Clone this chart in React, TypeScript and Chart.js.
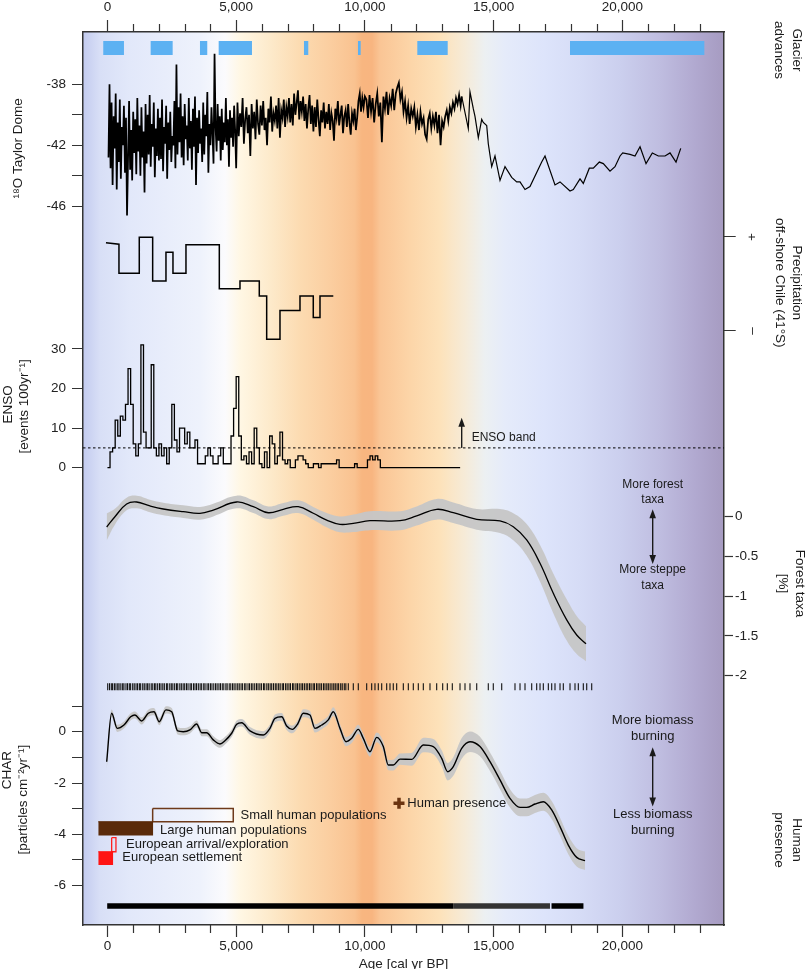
import React, { useEffect, useRef } from 'react';
import { Chart, registerables } from 'chart.js';

Chart.register(...registerables);

const W = 807;
const H = 969;
const FONT = '"Liberation Sans", Arial, Helvetica, sans-serif';

// ---------------- Age axis ----------------
const AGE_MIN = -950;
const AGE_MAX = 23950;
const AGE_TICKS = [0, 5000, 10000, 15000, 20000];
const AGE_MINOR_STEP = 1000;

// ---------------- Glacier advances ----------------
const GLACIER_FROM = [-163, 1678, 3594, 4320, 7634, 9732, 12036, 17968];
const GLACIER_TO = [641, 2533, 3877, 5614, 7801, 9837, 13217, 23186];
const GLACIER_LEVEL = 1;

// ---------------- 18O Taylor Dome ----------------
const TD_A_START = 40;
const TD_A_STEP = 40;
const TD_A = [
  -42.8, -38.0, -43.5, -39.2, -44.6, -40.1, -42.2, -38.6, -44.9, -40.5,
  -43.1, -39.0, -44.2, -40.8, -42.0, -39.4, -43.8, -40.2, -46.6, -42.9,
  -39.1, -43.6, -41.0, -44.3, -39.8, -42.5, -40.3, -43.9, -38.9, -42.4,
  -40.7, -44.0, -39.5, -42.8, -41.1, -45.1, -39.3, -43.2, -40.0, -42.6,
  -38.7, -43.4, -40.6, -42.1, -39.2, -44.1, -40.9, -42.7, -39.6, -43.0,
  -40.2, -42.9, -39.0, -43.7, -40.8, -41.9, -39.4, -44.2, -40.5, -42.3,
  -39.8, -43.1, -41.4, -42.0, -39.1, -43.5, -36.7, -42.6, -39.5, -41.8,
  -38.6, -42.8, -40.1, -43.3, -39.3, -41.6, -40.7, -43.0, -38.9, -42.2,
  -40.4, -43.6, -39.6, -42.1, -38.8, -44.6, -40.2, -42.5, -39.7, -41.9,
  -40.9, -43.1, -39.2, -42.6, -40.0, -41.4, -38.5, -43.8, -40.6, -42.0,
  -39.5, -41.2, -43.2, -36.0, -40.8, -42.4, -39.3, -41.7, -40.1, -43.0,
  -39.6, -42.3, -40.5, -41.8, -38.9, -42.0, -40.3, -43.4, -39.7, -41.5,
  -40.2, -42.1, -39.4, -41.0, -43.5,
];
const TD_B_START = 5050;
const TD_B_STEP = 50;
const TD_B = [
  -39.2, -41.4, -39.9, -40.8, -38.9, -41.9, -40.3, -39.5, -41.2, -40.0,
  -42.7, -39.3, -40.9, -39.8, -41.6, -39.0, -40.6, -41.3, -39.4, -40.7,
  -39.1, -41.0, -40.2, -42.0, -39.6, -40.5, -38.8, -41.1, -39.9, -40.4,
  -39.4, -40.9, -38.9, -41.5, -39.7, -40.2, -39.0, -40.8, -39.5, -40.1,
  -38.9, -40.5, -39.3, -40.7, -38.6, -40.0, -39.2, -38.4, -40.3, -39.1,
  -39.8, -38.8, -40.4, -39.3, -40.9, -39.6, -38.7, -40.6, -39.4, -41.1,
  -39.5, -40.8, -39.0, -40.3, -41.4, -39.7, -40.5, -39.2, -40.9, -39.8,
  -40.6, -39.3, -41.0, -39.9, -40.4, -41.7, -39.6, -40.2, -39.1, -40.7,
  -40.0, -39.4, -41.2, -40.1, -39.7, -40.8, -39.3, -40.5, -41.3, -39.9,
  -40.4, -39.6, -41.0, -40.2, -39.1, -38.6, -39.8, -38.9, -39.5, -38.8,
];
const TD_C_START = 10060;
const TD_C_STEP = 60;
const TD_C = [
  -39.0, -40.2, -38.7, -39.8, -38.9, -40.5, -39.3, -38.6, -40.1, -39.2,
  -41.8, -38.8, -39.6, -38.5, -40.0, -38.9, -39.4, -38.3, -39.7, -38.6,
  -38.2, -37.9, -39.0, -38.5, -39.8, -39.1, -40.2, -39.4, -40.6, -39.6,
  -40.1, -39.5, -40.8, -40.0, -41.0, -39.8, -40.6, -40.2, -41.3, -41.6,
  -40.3, -39.9, -40.9, -40.1, -40.7, -39.8, -41.2, -40.0, -42.0, -40.4,
  -40.8, -40.1, -39.7, -40.4, -39.5, -39.9, -39.2, -39.6, -38.9, -39.3,
  -38.7, -39.4,
];
const TD_S_AGE = [
  13761, 14017, 14083, 14211, 14277, 14406, 14538, 14600, 14732, 14794,
  14926, 15054, 15249, 15443, 15703, 15897, 16026, 16220, 16414, 16868,
  16997, 17385, 17580, 17968, 18096, 18357, 18485, 18718, 18873, 19107,
  19262, 19522, 19716, 19911, 20016, 20299, 20493, 20688, 20921, 21166,
  21399, 21659, 21853, 22086, 22269,
];
const TD_S = [
  -38.8, -40.9, -38.5, -39.6, -40.1, -41.5, -40.3, -40.5, -40.7, -41.9,
  -43.4, -42.7, -44.3, -43.4, -44.1, -44.4, -44.4, -44.9, -44.7, -43.1,
  -42.7, -44.6, -44.4, -45.0, -44.9, -44.2, -44.5, -43.5, -43.5, -43.1,
  -43.2, -43.7, -43.4, -42.7, -42.5, -42.6, -42.7, -42.1, -43.2, -42.5,
  -42.7, -42.7, -42.5, -43.1, -42.2,
];
const TD_TICKS = [-38, -40, -42, -44, -46];
const TD_LABELS = [-38, -42, -46];

// ---------------- Precipitation off-shore Chile ----------------
const PRECIP_AGE = [-58, 447, 447, 1236, 1236, 1756, 1756, 2273, 2273, 2545, 2545, 3050, 3050, 4345, 4345, 5148, 5148, 5898, 5898, 6185, 6185, 6702, 6702, 7479, 7479, 7995, 7995, 8256, 8256, 8773];
const PRECIP = [0.87, 0.84, 0.22, 0.22, 0.99, 0.99, 0.06, 0.06, 0.67, 0.67, 0.22, 0.22, 0.83, 0.83, -0.11, -0.11, 0.06, 0.06, -0.26, -0.26, -1.18, -1.18, -0.57, -0.57, -0.26, -0.26, -0.72, -0.72, -0.26, -0.26];
const PRECIP_TICKS = [1, -1];
const PRECIP_LABELS = ['+', '\u2013'];

// ---------------- ENSO events (100-yr bins) ----------------
const ENSO_BIN = 100;
const ENSO = [
  0, 4, 5, 12, 8, 13, 12, 16, 25, 16,
  6, 3, 6, 31, 9, 5, 5, 26, 5, 3,
  6, 3, 5, 1, 5, 16, 7, 4, 10, 10,
  6, 9, 5, 5, 7, 1, 1, 1, 3, 5,
  3, 1, 1, 3, 5, 1, 1, 1, 8, 15,
  23, 8, 2, 3, 1, 4, 1, 10, 5, 1,
  0, 4, 0, 8, 6, 1, 3, 9, 2, 1,
  2, 0, 0, 2, 3, 3, 2, 1, 0, 0,
  1, 1, 0, 1, 1, 1, 1, 1, 1, 2,
  0, 0, 0, 0, 0, 0, 1, 0, 0, 0,
  0, 2, 3, 2, 3, 2, 0, 0, 0, 0,
  0, 0, 0, 0, 0, 0, 0, 0, 0, 0,
  0, 0, 0, 0, 0, 0, 0, 0, 0, 0,
  0, 0, 0, 0, 0, 0, 0,
];
const ENSO_BAND = 5;
const ENSO_TICKS = [0, 10, 20, 30];

// ---------------- Forest taxa ----------------
const FOREST_AGE = [-30, 290, 745, 1134, 1651, 2168, 2945, 3594, 4110, 5019, 5665, 6247, 6830, 7413, 7995, 8516, 9033, 9549, 10198, 11364, 12012, 12789, 13434, 14344, 15249, 15765, 16286, 16803, 17319, 17840, 18228, 18590];
const FOREST = [-0.13, 0.0, 0.16, 0.185, 0.135, 0.097, 0.063, 0.043, 0.084, 0.185, 0.126, 0.05, 0.093, 0.126, 0.043, -0.042, -0.096, -0.083, -0.05, -0.05, 0.01, 0.093, 0.05, -0.033, -0.054, -0.126, -0.293, -0.587, -0.965, -1.30, -1.49, -1.60];
const FOREST_ERR = [0.17, 0.10, 0.08, 0.08, 0.08, 0.08, 0.08, 0.08, 0.08, 0.08, 0.08, 0.08, 0.08, 0.08, 0.08, 0.09, 0.10, 0.11, 0.12, 0.12, 0.12, 0.13, 0.13, 0.13, 0.15, 0.17, 0.20, 0.23, 0.25, 0.26, 0.24, 0.22];
const FOREST_TICKS = [0, -0.5, -1, -1.5, -2];

// pollen sample ages
const POLLEN_SAMPLES = [
  10, 80, 150, 200, 270, 330, 400, 450, 520, 590, 640, 720, 780, 850, 900, 980, 1040, 1110, 1170, 1240,
  1290, 1370, 1430, 1500, 1560, 1620, 1700, 1760, 1830, 1880, 1950, 2020, 2080, 2150, 2210, 2290, 2340, 2420, 2480, 2540,
  2610, 2680, 2730, 2810, 2870, 2940, 3000, 3070, 3130, 3210, 3260, 3340, 3400, 3460, 3530, 3600, 3660, 3740, 3790, 3870,
  3930, 4000, 4060, 4130, 4200, 4260, 4330, 4390, 4460, 4520, 4600, 4650, 4730, 4790, 4860, 4920, 4990, 5060, 5120, 5190,
  5250, 5330, 5380, 5460, 5520, 5590, 5650, 5720, 5790, 5850, 5920, 5980, 6060, 6110, 6190, 6250, 6320, 6380, 6450, 6520,
  6580, 6650, 6710, 6790, 6840, 6920, 6980, 7050, 7110, 7190, 7240, 7320, 7380, 7450, 7520, 7580, 7650, 7720, 7780, 7850,
  7910, 7990, 8040, 8120, 8180, 8250, 8310, 8390, 8450, 8520, 8580, 8650, 8720, 8790, 8850, 8920, 8980, 9060, 9120, 9200,
  9260, 9356, 9550, 9744, 10070, 10264, 10392, 10521, 10653, 10847, 10975, 11103, 11235, 11493, 11687, 11881, 12075, 12270, 12529, 12789,
  13022, 13202, 13396, 13695, 13889, 14083, 14344, 14794, 14988, 15315, 15831, 16026, 16220, 16480, 16674, 16803, 16931, 17126, 17257, 17385,
  17580, 17708, 17968, 18162, 18291, 18485, 18617, 18811,
];

// ---------------- CHAR ----------------
const CHAR_AGE = [-30, 163, 381, 641, 901, 1068, 1329, 1585, 1807, 2012, 2273, 2494, 2727, 2945, 3205, 3465, 3660, 3854, 4110, 4371, 4565, 4825, 5019, 5214, 5536, 6053, 6313, 6507, 6768, 6962, 7180, 7389, 7607, 7867, 8061, 8322, 8578, 8773, 9033, 9266, 9487, 9744, 9938, 10198, 10458, 10715, 10909, 11103, 11364, 11818, 12270, 12657, 12984, 13217, 13434, 13761, 14083, 14472, 14860, 15249, 15637, 16026, 16286, 16608, 16931, 17257, 17580, 17902, 18228, 18551];
const CHAR = [-1.17, 0.72, 0.13, 0.26, 0.58, 0.65, 0.42, 0.72, 0.78, 0.39, 0.85, 0.78, 0.03, 0.0, 0.07, 0.30, -0.04, -0.04, -0.32, -0.48, -0.35, -0.06, 0.29, 0.35, 0.03, -0.13, 0.13, 0.52, 0.58, 0.22, 0.09, 0.30, 0.72, 0.65, 0.13, 0.26, 0.46, 0.78, 0.13, -0.39, -0.26, 0.09, -0.26, -0.78, -0.22, -0.58, -1.30, -1.30, -1.07, -1.08, -0.52, -0.58, -1.04, -1.56, -1.36, -0.65, -0.39, -0.58, -1.17, -1.88, -2.60, -2.95, -2.95, -2.82, -2.73, -3.05, -3.70, -4.42, -4.90, -5.03];
const CHAR_ERR = [
  0.33, 0.15, 0.14, 0.14, 0.14, 0.14, 0.14, 0.14, 0.14, 0.14,
  0.14, 0.14, 0.14, 0.14, 0.14, 0.14, 0.14, 0.14, 0.15, 0.15,
  0.15, 0.15, 0.15, 0.15, 0.15, 0.15, 0.15, 0.15, 0.15, 0.15,
  0.15, 0.15, 0.16, 0.16, 0.16, 0.16, 0.16, 0.17, 0.17, 0.18,
  0.18, 0.18, 0.18, 0.19, 0.19, 0.20, 0.20, 0.21, 0.22, 0.25,
  0.28, 0.30, 0.32, 0.34, 0.36, 0.40, 0.40, 0.38, 0.36, 0.36,
  0.36, 0.35, 0.35, 0.35, 0.35, 0.35, 0.35, 0.36, 0.36, 0.36,
];
const CHAR_TICKS = [1, 0, -1, -2, -3, -4, -5, -6];
const CHAR_LABELS = [0, -2, -4, -6];
// charcoal sample coverage: [from, to]
const CHAR_SAMPLED_DENSE = [[-10, 13430], [17250, 18490]];
const CHAR_SAMPLED_SPARSE = [[13430, 17190]];

// ---------------- Human presence ----------------
// [from age, to age, top CHAR value, bottom CHAR value]
const SMALL_POP = [1756, 4887, -2.99, -3.51];
const LARGE_POP = [-357, 1779, -3.51, -4.05];
const EURO_ARRIVAL = [163, 330, -4.13, -4.68];
const EURO_SETTLE = [-357, 225, -4.68, -5.2];
const HUMAN_PRESENCE = [11325, -2.79];

// ---------------- layout (pixels) ----------------
const AREA_TOP = 32;
const AREA_BOTTOM = 925;
const AREA_LEFT = 83;
const AREA_RIGHT = 724;
const AGE_PER_PX = (AGE_MAX - AGE_MIN) / (AREA_RIGHT - AREA_LEFT);
function panel(value: number, px: number, pxPerUnit: number) {
  return { min: value - (AREA_BOTTOM - px) / pxPerUnit, max: value + (px - AREA_TOP) / pxPerUnit };
}
const R_TD = panel(-38, 84.3, 15.25);
const R_ENSO = panel(0, 467.7, 3.96);
const R_PRECIP = panel(1, 236.7, 47);
const R_FOREST = panel(0, 516.7, 79.4);
const R_CHAR = panel(0, 731.7, 25.65);
const R_GLACIER = panel(GLACIER_LEVEL, 48, 100);
const SAMPLE_POLLEN = 1;
const SAMPLE_CHAR = 0;
const R_SAMPLE = panel(SAMPLE_POLLEN, 686.7, 219.3);

// left tick labels end 17px left of the frame; ticks are 11px long
const LEFT_LABEL_GAP = 17;
const LEFT_TICK = 11;
// precipitation +/- labels sit 28px right of the frame; ticks are 12px long
const PRECIP_LABEL_GAP = 28.3;
const PRECIP_TICK = 12;

const BG_STOPS: [number, string][] = [
  [0, '#c3cbef'], [0.0265, '#d8dff6'], [0.073, '#e2e8fa'], [0.1825, '#eef2fc'], [0.2215, '#fbfbfd'],
  [0.245, '#fff7e4'], [0.292, '#fdeacb'], [0.3385, '#fcdbb1'], [0.385, '#fbcea0'], [0.424, '#f9c290'],
  [0.4353, '#f8b680'], [0.451, '#f8b580'], [0.4633, '#fac595'], [0.51, '#fcd5a8'], [0.557, '#fde2ba'],
  [0.596, '#f6ebd8'], [0.627, '#ecf0f2'], [0.658, '#e5ebfa'], [0.72, '#dde4fb'], [0.775, '#d6dcf6'],
  [0.838, '#cbcfee'], [0.9, '#bfbde0'], [0.955, '#b1a9d0'], [1, '#a69bc1'],
];

const INK = '#1a1a1a';
const AXIS = '#333333';
const TICK_FONT = { family: FONT, size: 13.5 };

function fmtAge(v: number) {
  return String(v).replace(/\B(?=(\d{3})+(?!\d))/g, ',');
}

function buildData() {
  const td: { x: number; y: number }[] = [];
  TD_A.forEach((v, i) => td.push({ x: TD_A_START + i * TD_A_STEP, y: v }));
  TD_B.forEach((v, i) => td.push({ x: TD_B_START + i * TD_B_STEP, y: v }));
  TD_C.forEach((v, i) => td.push({ x: TD_C_START + i * TD_C_STEP, y: v }));
  TD_S.forEach((v, i) => td.push({ x: TD_S_AGE[i], y: v }));
  const tdDenseEnd = TD_S_AGE[0];

  const glacier: any[] = [];
  GLACIER_FROM.forEach((f, i) => {
    glacier.push({ x: f, y: GLACIER_LEVEL }, { x: GLACIER_TO[i], y: GLACIER_LEVEL }, { x: GLACIER_TO[i], y: null });
  });
  const enso = ENSO.map((v, i) => ({ x: i * ENSO_BIN, y: v }));
  enso.push({ x: ENSO.length * ENSO_BIN, y: ENSO[ENSO.length - 1] });
  const runs = (rs: number[][]) => {
    const out: any[] = [];
    rs.forEach(([a, b]) => out.push({ x: a, y: SAMPLE_CHAR }, { x: b, y: SAMPLE_CHAR }, { x: b, y: null }));
    return out;
  };
  const rectTop = (r: number[]) => [{ x: r[0], y: r[2] }, { x: r[1], y: r[2] }];
  const rectOutline = (r: number[]) => [
    { x: r[0], y: r[2] }, { x: r[1], y: r[2] }, { x: r[1], y: r[3] }, { x: r[0], y: r[3] }, { x: r[0], y: r[2] },
  ];
  const base = { xAxisID: 'x', pointRadius: 0, pointHoverRadius: 0 };
  const clear = 'rgba(0,0,0,0)';
  return [
    { ...base, label: 'Glacier advances', yAxisID: 'yG', data: glacier, borderColor: '#5cb1f2', borderWidth: 14, borderCapStyle: 'butt', spanGaps: false, order: 4 },
    {
      ...base, label: '18O Taylor Dome', yAxisID: 'yO', data: td, borderColor: '#000', borderWidth: 1.2, tension: 0, order: 2,
      segment: { borderWidth: (c: any) => (c.p0.parsed.x < tdDenseEnd ? 1.75 : 1.2) },
    },
    { ...base, label: 'Precipitation', yAxisID: 'yP', data: PRECIP_AGE.map((x, i) => ({ x, y: PRECIP[i] })), borderColor: '#000', borderWidth: 1.5, order: 2 },
    { ...base, label: 'ENSO', yAxisID: 'yE', data: enso, stepped: 'before', borderColor: '#000', borderWidth: 1.3, order: 2 },
    { ...base, label: 'ENSO band', yAxisID: 'yE', data: [{ x: AGE_MIN, y: ENSO_BAND }, { x: AGE_MAX, y: ENSO_BAND }], borderColor: '#000', borderWidth: 1, borderDash: [2.5, 2.5], order: 3 },
    { ...base, label: 'Forest hi', yAxisID: 'yF', data: FOREST_AGE.map((x, i) => ({ x, y: FOREST[i] + FOREST_ERR[i] })), borderColor: clear, borderWidth: 1, tension: 0.4, fill: false, order: 10 },
    { ...base, label: 'Forest lo', yAxisID: 'yF', data: FOREST_AGE.map((x, i) => ({ x, y: FOREST[i] - FOREST_ERR[i] })), borderColor: clear, borderWidth: 1, tension: 0.4, fill: '-1', backgroundColor: 'rgba(198,198,198,0.95)', order: 10 },
    { ...base, label: 'Forest taxa', yAxisID: 'yF', data: FOREST_AGE.map((x, i) => ({ x, y: FOREST[i] })), borderColor: '#000', borderWidth: 1.3, tension: 0.4, order: 2 },
    { ...base, label: 'Pollen samples', yAxisID: 'yS', data: POLLEN_SAMPLES.map((x) => ({ x, y: SAMPLE_POLLEN })), showLine: false, pointStyle: 'line', pointRotation: 90, pointRadius: 3.5, pointBorderWidth: 1.1, pointBorderColor: '#111', order: 3 },
    { ...base, label: 'CHAR hi', yAxisID: 'yC', data: CHAR_AGE.map((x, i) => ({ x, y: CHAR[i] + CHAR_ERR[i] })), borderColor: clear, borderWidth: 1, cubicInterpolationMode: 'monotone', fill: false, order: 10 },
    { ...base, label: 'CHAR lo', yAxisID: 'yC', data: CHAR_AGE.map((x, i) => ({ x, y: CHAR[i] - CHAR_ERR[i] })), borderColor: clear, borderWidth: 1, cubicInterpolationMode: 'monotone', fill: '-1', backgroundColor: 'rgba(198,198,198,0.95)', order: 10 },
    { ...base, label: 'CHAR', yAxisID: 'yC', data: CHAR_AGE.map((x, i) => ({ x, y: CHAR[i] })), borderColor: '#000', borderWidth: 1.4, cubicInterpolationMode: 'monotone', order: 2 },
    { ...base, label: 'Charcoal samples', yAxisID: 'yS', data: runs(CHAR_SAMPLED_DENSE), borderColor: '#000', borderWidth: 5.5, borderCapStyle: 'butt', spanGaps: false, order: 3 },
    { ...base, label: 'Charcoal samples sparse', yAxisID: 'yS', data: runs(CHAR_SAMPLED_SPARSE), borderColor: '#333', borderWidth: 5.5, borderCapStyle: 'butt', spanGaps: false, order: 3 },
    { ...base, label: 'Large human populations', yAxisID: 'yC', data: rectTop(LARGE_POP), borderColor: '#5a2a0a', borderWidth: 1, fill: { value: LARGE_POP[3] }, backgroundColor: '#5a2a0a', order: 6 },
    { ...base, label: 'Small human populations', yAxisID: 'yC', data: rectOutline(SMALL_POP), borderColor: '#6e3a1a', borderWidth: 1.5, fill: false, order: 6 },
    { ...base, label: 'European settlement', yAxisID: 'yC', data: rectTop(EURO_SETTLE), borderColor: '#ff1414', borderWidth: 1, fill: { value: EURO_SETTLE[3] }, backgroundColor: '#ff1414', order: 6 },
    { ...base, label: 'European arrival/exploration', yAxisID: 'yC', data: rectOutline(EURO_ARRIVAL), borderColor: '#ff2020', borderWidth: 1.3, fill: false, order: 6 },
    { ...base, label: 'Human presence', yAxisID: 'yC', data: [{ x: HUMAN_PRESENCE[0], y: HUMAN_PRESENCE[1] }], showLine: false, pointStyle: 'cross', pointRadius: 5.5, pointBorderWidth: 3.5, pointBorderColor: '#6b3410', order: 1 },
  ];
}

// Left value axes: labels right-aligned LEFT_LABEL_GAP px left of the frame,
// tick marks drawn only over the last LEFT_TICK px next to the frame.
function yAxis(range: { min: number; max: number }, ticks: number[], label: (v: number) => string) {
  return {
    type: 'linear',
    axis: 'y',
    position: { x: AGE_MIN - LEFT_LABEL_GAP * AGE_PER_PX },
    min: range.min,
    max: range.max,
    bounds: 'data',
    afterBuildTicks: (s: any) => { s.ticks = ticks.map((value) => ({ value })); },
    ticks: { callback: (v: any) => label(Number(v)), font: TICK_FONT, color: '#222', autoSkip: false },
    grid: {
      display: true, drawOnChartArea: false, drawTicks: true, tickLength: -LEFT_LABEL_GAP,
      tickColor: AXIS, tickWidth: 1.2, tickBorderDash: [0, LEFT_LABEL_GAP - LEFT_TICK, LEFT_TICK, 100],
    },
    border: { display: false },
  };
}

function drawText(ctx: CanvasRenderingContext2D, s: string, x: number, y: number, size: number, align: CanvasTextAlign = 'left', rot = 0) {
  ctx.save();
  ctx.translate(x, y);
  if (rot) ctx.rotate(rot);
  ctx.font = `${size}px ${FONT}`;
  ctx.fillStyle = INK;
  ctx.textAlign = align;
  ctx.textBaseline = 'middle';
  ctx.fillText(s, 0, 0);
  ctx.restore();
}

function vArrow(ctx: CanvasRenderingContext2D, x: number, yTop: number, yBottom: number, headTop: boolean, headBottom: boolean) {
  const hl = 9;
  const hw = 3.3;
  ctx.save();
  ctx.strokeStyle = INK;
  ctx.fillStyle = INK;
  ctx.lineWidth = 1.4;
  ctx.beginPath();
  ctx.moveTo(x, yTop + (headTop ? hl - 1 : 0));
  ctx.lineTo(x, yBottom - (headBottom ? hl - 1 : 0));
  ctx.stroke();
  if (headTop) {
    ctx.beginPath(); ctx.moveTo(x, yTop); ctx.lineTo(x - hw, yTop + hl); ctx.lineTo(x + hw, yTop + hl); ctx.closePath(); ctx.fill();
  }
  if (headBottom) {
    ctx.beginPath(); ctx.moveTo(x, yBottom); ctx.lineTo(x - hw, yBottom - hl); ctx.lineTo(x + hw, yBottom - hl); ctx.closePath(); ctx.fill();
  }
  ctx.restore();
}

const decor = {
  id: 'decor',
  beforeDraw(chart: any) {
    const { ctx, chartArea: a } = chart;
    const g = ctx.createLinearGradient(a.left, 0, a.right, 0);
    BG_STOPS.forEach(([f, c]) => g.addColorStop(f, c));
    ctx.save();
    ctx.fillStyle = g;
    ctx.fillRect(a.left, a.top, a.right - a.left, a.bottom - a.top);
    ctx.restore();
  },
  afterDraw(chart: any) {
    const { ctx, chartArea: a, scales } = chart;
    const X = scales.x;
    const yO = scales.yO, yE = scales.yE, yP = scales.yP, yF = scales.yF, yC = scales.yC, yG = scales.yG;
    // minor age ticks (top and bottom)
    ctx.save();
    ctx.strokeStyle = AXIS;
    ctx.lineWidth = 1.2;
    for (let v = Math.ceil(AGE_MIN / AGE_MINOR_STEP) * AGE_MINOR_STEP; v <= AGE_MAX; v += AGE_MINOR_STEP) {
      if (AGE_TICKS.includes(v)) continue;
      const px = Math.round(X.getPixelForValue(v)) + 0.5;
      ctx.beginPath();
      ctx.moveTo(px, a.top); ctx.lineTo(px, a.top - 8);
      ctx.moveTo(px, a.bottom); ctx.lineTo(px, a.bottom + 8);
      ctx.stroke();
    }
    ctx.restore();

    // ENSO band annotation
    const ax = X.getPixelForValue(13760);
    vArrow(ctx, ax, yE.getPixelForValue(12.6), yE.getPixelForValue(ENSO_BAND), true, false);
    drawText(ctx, 'ENSO band', X.getPixelForValue(14149), yE.getPixelForValue(7.5), 12);

    // forest annotation
    const fx = X.getPixelForValue(21180);
    drawText(ctx, 'More forest', fx, yF.getPixelForValue(0.40), 12, 'center');
    drawText(ctx, 'taxa', fx, yF.getPixelForValue(0.21), 12, 'center');
    vArrow(ctx, fx, yF.getPixelForValue(0.093), yF.getPixelForValue(-0.596), true, true);
    drawText(ctx, 'More steppe', fx, yF.getPixelForValue(-0.67), 12, 'center');
    drawText(ctx, 'taxa', fx, yF.getPixelForValue(-0.87), 12, 'center');

    // biomass annotation
    drawText(ctx, 'More biomass', fx, yC.getPixelForValue(0.456), 13, 'center');
    drawText(ctx, 'burning', fx, yC.getPixelForValue(-0.195), 13, 'center');
    vArrow(ctx, fx, yC.getPixelForValue(-0.61), yC.getPixelForValue(-2.92), true, true);
    drawText(ctx, 'Less biomass', fx, yC.getPixelForValue(-3.21), 13, 'center');
    drawText(ctx, 'burning', fx, yC.getPixelForValue(-3.86), 13, 'center');

    // human presence labels
    drawText(ctx, 'Small human populations', X.getPixelForValue(5167), yC.getPixelForValue(-3.25), 13);
    drawText(ctx, 'Large human populations', X.getPixelForValue(2040), yC.getPixelForValue(-3.83), 13);
    drawText(ctx, 'European arrival/exploration', X.getPixelForValue(720), yC.getPixelForValue(-4.38), 13);
    drawText(ctx, 'European settlement', X.getPixelForValue(575), yC.getPixelForValue(-4.89), 13);
    drawText(ctx, 'Human presence', X.getPixelForValue(11647), yC.getPixelForValue(-2.79), 13);

    // left titles (rotated)
    const L = -Math.PI / 2;
    const R = Math.PI / 2;
    drawText(ctx, '\u00b9\u2078O Taylor Dome', 18.5, yO.getPixelForValue(-42.2), 13.5, 'center', L);
    drawText(ctx, 'ENSO', 8, yE.getPixelForValue(16), 13.5, 'center', L);
    drawText(ctx, '[events 100yr\u207b\u00b9]', 24, yE.getPixelForValue(15.5), 13.5, 'center', L);
    drawText(ctx, 'CHAR', 7, yC.getPixelForValue(-1.5), 13.5, 'center', L);
    drawText(ctx, '[particles cm\u207b\u00b2yr\u207b\u00b9]', 23, yC.getPixelForValue(-2.65), 13.5, 'center', L);

    // right titles (rotated)
    drawText(ctx, 'Glacier', 797, yG.getPixelForValue(GLACIER_LEVEL - 0.02), 13.5, 'center', R);
    drawText(ctx, 'advances', 779, yG.getPixelForValue(GLACIER_LEVEL - 0.02), 13.5, 'center', R);
    drawText(ctx, 'Precipitation', 797, yP.getPixelForValue(0.02), 13.5, 'center', R);
    drawText(ctx, 'off-shore Chile (41\u00b0S)', 780, yP.getPixelForValue(0.02), 13.5, 'center', R);
    drawText(ctx, 'Forest taxa', 800, yF.getPixelForValue(-0.84), 13.5, 'center', R);
    drawText(ctx, '[%]', 783, yF.getPixelForValue(-0.84), 13.5, 'center', R);
    drawText(ctx, 'Human', 797, yC.getPixelForValue(-4.22), 13.5, 'center', R);
    drawText(ctx, 'presence', 779, yC.getPixelForValue(-4.22), 13.5, 'center', R);
  },
};

export default function App() {
  const ref = useRef<HTMLCanvasElement>(null);

  useEffect(() => {
    const canvas = ref.current;
    if (!canvas) return;
    // width of the forest (right, static) axis, to put the frame at AREA_RIGHT
    const mctx = document.createElement('canvas').getContext('2d')!;
    mctx.font = `${TICK_FONT.size}px ${FONT}`;
    const widest = Math.max(...FOREST_TICKS.map((v) => mctx.measureText(String(v)).width));
    const FOREST_TL = 9;
    const FOREST_PAD = 2;
    const padRight = W - AREA_RIGHT - (FOREST_TL + widest + 2 * FOREST_PAD);

    const xCommon = {
      type: 'linear',
      min: AGE_MIN,
      max: AGE_MAX,
      bounds: 'data',
      afterBuildTicks: (s: any) => { s.ticks = AGE_TICKS.map((value) => ({ value })); },
      grid: { display: true, drawOnChartArea: false, drawTicks: true, tickLength: 12, tickColor: AXIS, tickWidth: 1.2 },
      border: { display: true, color: AXIS, width: 1.5 },
    };

    const chart = new Chart(canvas, {
      type: 'line',
      data: { datasets: buildData() as any },
      options: {
        responsive: false,
        animation: false,
        devicePixelRatio: 1,
        events: [],
        layout: { padding: { top: -5.5, left: AREA_LEFT, right: padRight, bottom: -3.7 } },
        plugins: { legend: { display: false }, tooltip: { enabled: false } },
        scales: {
          x: {
            ...xCommon,
            position: 'bottom',
            ticks: { callback: (v: any) => fmtAge(Number(v)), padding: 3, font: { ...TICK_FONT, lineHeight: 1 }, color: '#222', maxRotation: 0, autoSkip: false },
            title: { display: true, text: 'Age [cal yr BP]', font: { family: FONT, size: 13.5, lineHeight: 1.2 }, padding: { top: 0, bottom: 0 }, color: '#222' },
          },
          x2: {
            ...xCommon,
            axis: 'x',
            position: 'top',
            ticks: { callback: (v: any) => fmtAge(Number(v)), padding: 6, font: { ...TICK_FONT, lineHeight: 1 }, color: '#222', maxRotation: 0, autoSkip: false },
          },
          yO: yAxis(R_TD, TD_TICKS, (v) => (TD_LABELS.includes(v) ? String(v) : '')),
          yE: yAxis(R_ENSO, ENSO_TICKS, (v) => String(v)),
          yC: yAxis(R_CHAR, CHAR_TICKS, (v) => (CHAR_LABELS.includes(v) ? String(v) : '')),
          yP: {
            type: 'linear',
            axis: 'y',
            position: { x: AGE_MAX + PRECIP_LABEL_GAP * AGE_PER_PX },
            min: R_PRECIP.min,
            max: R_PRECIP.max,
            bounds: 'data',
            afterBuildTicks: (s: any) => { s.ticks = PRECIP_TICKS.map((value) => ({ value })); },
            ticks: { callback: (v: any) => PRECIP_LABELS[PRECIP_TICKS.indexOf(Number(v))] || '', font: TICK_FONT, color: '#222', autoSkip: false, minRotation: 90, maxRotation: 90, labelOffset: -3.5 },
            grid: {
              display: true, drawOnChartArea: false, drawTicks: true, tickLength: PRECIP_LABEL_GAP,
              tickColor: AXIS, tickWidth: 1.2, tickBorderDash: [0, PRECIP_LABEL_GAP - PRECIP_TICK, PRECIP_TICK, 100],
            },
            border: { display: false },
          },
          yF: {
            type: 'linear',
            axis: 'y',
            position: 'right',
            min: R_FOREST.min,
            max: R_FOREST.max,
            bounds: 'data',
            afterBuildTicks: (s: any) => { s.ticks = FOREST_TICKS.map((value) => ({ value })); },
            ticks: { callback: (v: any) => String(v), padding: FOREST_PAD, crossAlign: 'near', font: TICK_FONT, color: '#222', autoSkip: false },
            grid: { display: true, drawOnChartArea: false, drawTicks: true, tickLength: FOREST_TL, tickColor: AXIS, tickWidth: 1.2 },
            border: { display: true, color: AXIS, width: 1.5 },
          },
          // glacier-bar level axis; its border is the left frame line
          yG: {
            type: 'linear',
            axis: 'y',
            position: { x: AGE_MIN },
            min: R_GLACIER.min,
            max: R_GLACIER.max,
            bounds: 'data',
            ticks: { display: false },
            grid: { display: false },
            border: { display: true, color: AXIS, width: 1.5 },
          },
          yS: { type: 'linear', axis: 'y', position: { x: AGE_MIN }, min: R_SAMPLE.min, max: R_SAMPLE.max, display: false },
        } as any,
      },
      plugins: [decor],
    } as any);
    return () => chart.destroy();
  }, []);

  return (
    <div style={{ position: 'fixed', left: 0, top: 0, width: W, height: H, background: '#fff' }}>
      <canvas ref={ref} width={W} height={H} style={{ display: 'block', width: W, height: H }} />
    </div>
  );
}
